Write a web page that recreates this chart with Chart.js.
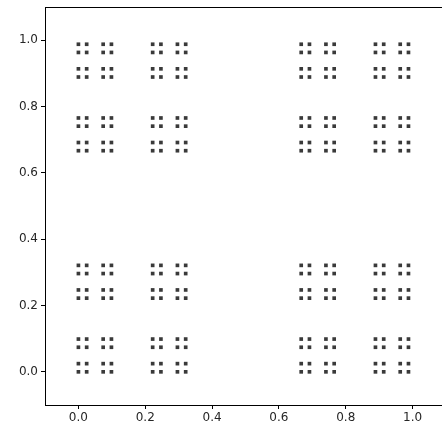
<!DOCTYPE html>
<html>
<head>
<meta charset="utf-8">
<script src="https://cdn.jsdelivr.net/npm/chart.js"></script>
<style>
  html, body { margin: 0; padding: 0; background: #fff; overflow: hidden; }
  #wrap { width: 450px; height: 430px; }
</style>
</head>
<body>
<div id="wrap"><canvas id="chart" width="450" height="430"></canvas></div>
<script>
// Cantor set level-4 left endpoints (same on both axes)
const cantorX = [0, 0.0247, 0.0741, 0.0988, 0.2222, 0.2469, 0.2963, 0.3210,
                 0.6667, 0.6914, 0.7407, 0.7654, 0.8889, 0.9136, 0.9630, 0.9877];
const cantorY = [0, 0.0247, 0.0741, 0.0988, 0.2222, 0.2469, 0.2963, 0.3210,
                 0.6667, 0.6914, 0.7407, 0.7654, 0.8889, 0.9136, 0.9630, 0.9877];
const xTicks = [0.0, 0.2, 0.4, 0.6, 0.8, 1.0];
const yTicks = [0.0, 0.2, 0.4, 0.6, 0.8, 1.0];

const points = [];
cantorX.forEach(x => cantorY.forEach(y => points.push({ x, y })));

// top spine (no right spine visible, it falls off the canvas)
const topSpine = {
  id: 'topSpine',
  afterDraw(chart) {
    const { ctx, chartArea } = chart;
    ctx.save();
    ctx.strokeStyle = '#000';
    ctx.lineWidth = 1;
    ctx.beginPath();
    ctx.moveTo(chartArea.left, chartArea.top + 0.5);
    ctx.lineTo(chartArea.right, chartArea.top + 0.5);
    ctx.stroke();
    ctx.restore();
  }
};

const tickFont = { family: 'DejaVu Sans', size: 12 };

new Chart(document.getElementById('chart').getContext('2d'), {
  type: 'scatter',
  data: {
    datasets: [{
      data: points,
      pointStyle: 'rect',
      pointRadius: 2.6,
      borderWidth: 0,
      backgroundColor: '#3a3a3a'
    }]
  },
  options: {
    responsive: false,
    animation: false,
    layout: { padding: { top: 7, right: 1, left: 0, bottom: 0 } },
    plugins: { legend: { display: false }, tooltip: { enabled: false } },
    scales: {
      x: {
        min: -0.1, max: 1.1,
        afterBuildTicks: s => { s.ticks = xTicks.map(v => ({ value: v })); },
        afterFit: s => { s.height = 25; s.paddingLeft = 0; s.paddingRight = 0; },
        ticks: { font: tickFont, color: '#262626', padding: 2, maxRotation: 0,
                 callback: v => v.toFixed(1) },
        grid: { drawOnChartArea: false, tickLength: 4, tickColor: '#000' },
        border: { color: '#000', width: 1 }
      },
      y: {
        min: -0.1, max: 1.1,
        afterBuildTicks: s => { s.ticks = yTicks.map(v => ({ value: v })); },
        afterFit: s => { s.width = 45; s.paddingTop = 0; s.paddingBottom = 0; },
        ticks: { font: tickFont, color: '#262626', padding: 3,
                 callback: v => v.toFixed(1) },
        grid: { drawOnChartArea: false, tickLength: 4, tickColor: '#000' },
        border: { color: '#000', width: 1 }
      }
    }
  },
  plugins: [topSpine]
});
</script>
</body>
</html>
